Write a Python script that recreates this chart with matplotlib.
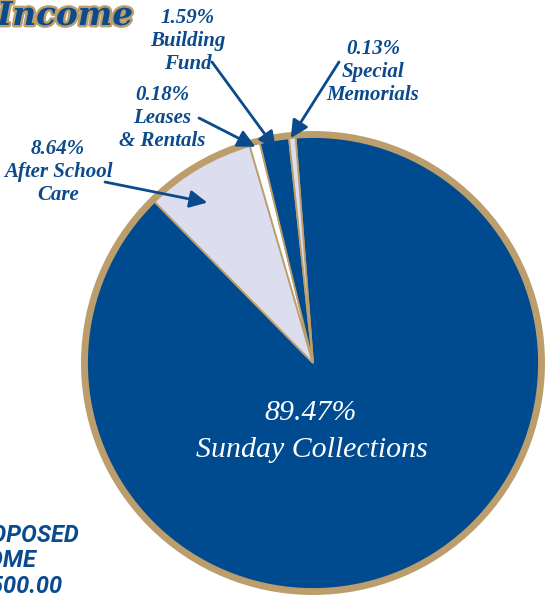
import matplotlib.pyplot as plt
import matplotlib.patheffects as pe
import numpy as np
from matplotlib.patches import Circle

# 데이터
categories = ['Sunday Collections', 'After School\nCare', 'Leases\n& Rentals',
              'Building\nFund', 'Special\nMemorials']
percents = [89.47, 8.64, 0.18, 1.59, 0.13]
# slice sizes as drawn in the original (small slices enlarged so they show)
wedge_sizes = [88.86, 7.85, 0.74, 2.08, 0.47]
slice_colors = ['#004a8f', '#dcdeef', '#ffffff', '#004a8f', '#dcdeef']

BLUE = '#0b4a8c'
GOLD = '#bc9e6c'
W, H = 548, 598

fig = plt.figure(figsize=(W / 100, H / 100), dpi=100)
ax = fig.add_axes([0, 0, 1, 1])

def py(y):
    return H - y

cx, cy = 313, py(363)
R = 226

# gold ring behind the pie
ax.add_patch(Circle((cx, cy), R + 6, facecolor=GOLD, edgecolor='none', zorder=0))

wedges, _ = ax.pie(wedge_sizes, colors=slice_colors, startangle=94.4,
                   counterclock=False, center=(cx, cy), radius=R, frame=True,
                   wedgeprops=dict(edgecolor=GOLD, linewidth=1.3))

ax.set_xlim(0, W)
ax.set_ylim(0, H)
ax.set_aspect('equal')
ax.axis('off')

serif = ['Liberation Serif', 'DejaVu Serif']

# 큰 조각 라벨
ax.text(311, py(413), f'{percents[0]:.2f}%', color='white', fontsize=21.5,
        family=serif, style='italic', ha='center', va='center')
ax.text(311.5, py(450), categories[0], color='white', fontsize=21.5,
        family=serif, style='italic', ha='center', va='center')

# 작은 조각 라벨 + 화살표
label_pos = {1: (58, 172), 2: (162, 118), 3: (188, 41), 4: (373, 72)}
arrow_tail = {1: (105, 182), 2: (199, 118), 3: (212, 62), 4: (339, 62)}
# (angle offset in degrees, radius fraction) for the arrow tip
tip_place = {1: (3.0, 0.85), 2: (0.0, 0.99), 3: (0.0, 0.96), 4: (0.4, 1.0)}

for i in range(1, 5):
    lx, ly = label_pos[i]
    ax.text(lx, py(ly), f'{percents[i]:.2f}%\n{categories[i]}', color=BLUE,
            fontsize=15, family=serif, style='italic', fontweight='bold',
            ha='center', va='center', linespacing=1.2)
    w = wedges[i]
    off, rf = tip_place[i]
    th = np.deg2rad((w.theta1 + w.theta2) / 2 + off)
    tip = (cx + rf * R * np.cos(th), cy + rf * R * np.sin(th))
    tx, ty = arrow_tail[i]
    ax.annotate('', xy=tip, xytext=(tx, py(ty)),
                arrowprops=dict(arrowstyle='-|>,head_length=0.7,head_width=0.35',
                                mutation_scale=15, color=BLUE, lw=2,
                                shrinkA=0, shrinkB=0))

# 제목 (잘린 부분)
ax.text(133, py(25), 'Income', color='#0b4a8c', fontsize=23.5,
        family=['DejaVu Serif'], style='italic', fontweight='bold',
        ha='right', va='baseline',
        path_effects=[pe.withStroke(linewidth=3.5, foreground=GOLD)])

# 왼쪽 아래 (잘린 부분)
narrow = ['Liberation Sans Narrow', 'Roboto', 'Liberation Sans', 'DejaVu Sans']
for txt, x, y in [('PROPOSED', 80, 542), ('INCOME', 36, 567), ('$1,500.00', 62, 593)]:
    ax.text(x, py(y), txt, color='#0a4a8f', fontsize=17, family=narrow,
            style='italic', fontweight='bold', ha='right', va='baseline')

plt.savefig('out.png', dpi=100)
